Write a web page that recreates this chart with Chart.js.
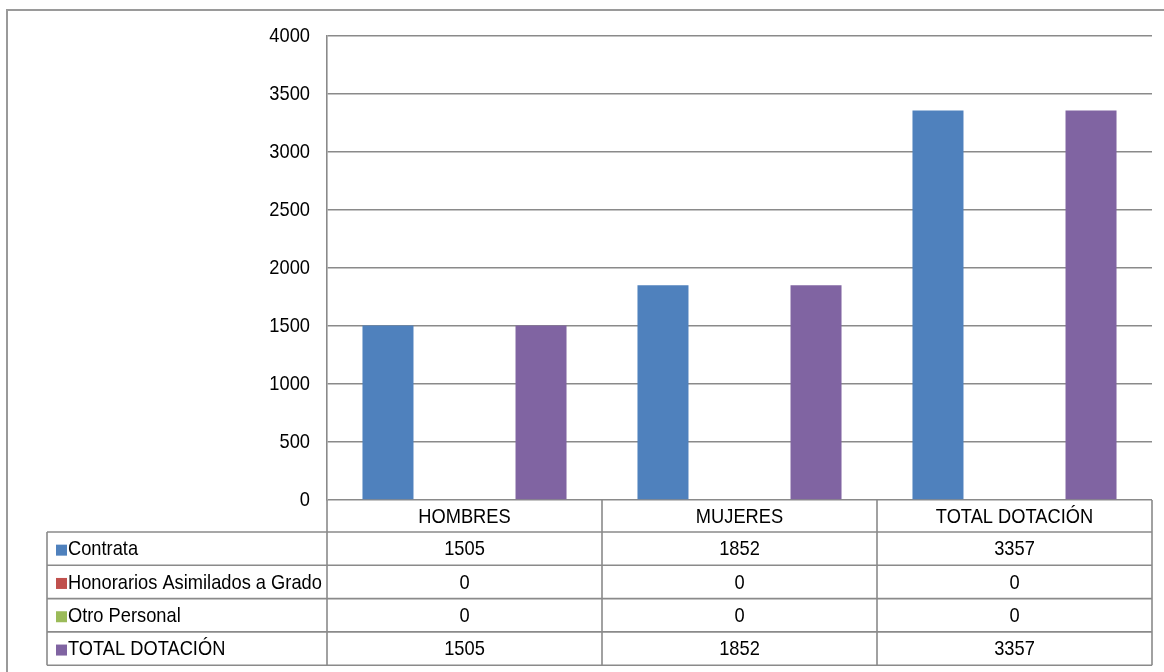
<!DOCTYPE html>
<html>
<head>
<meta charset="utf-8">
<script src="https://cdn.jsdelivr.net/npm/chart.js@4/dist/chart.umd.min.js"></script>
<style>
    html, body { margin: 0; padding: 0; background: #fff; }
    canvas { display: block; }
</style>
</head>
<body>
<canvas id="chart" width="1164" height="672"></canvas>
<script>
const categories = ['HOMBRES', 'MUJERES', 'TOTAL DOTACIÓN'];
const seriesNames = ['Contrata', 'Honorarios Asimilados a Grado', 'Otro Personal', 'TOTAL DOTACIÓN'];
const contrata = [1505, 1852, 3357];
const honorarios = [0, 0, 0];
const otroPersonal = [0, 0, 0];
const totalDotacion = [1505, 1852, 3357];
const seriesColors = ['#4f81bd', '#c0504d', '#9bbb59', '#8064a2'];
const yMax = 4000;
const yStep = 500;

const FONT = '"Liberation Sans", Arial, sans-serif';
const FONT_SIZE = 21;
const NARROW = 0.87;   // no narrow font installed, squeeze the glyphs instead
const LINE_COLOR = '#8a8a8a';

Chart.defaults.font.family = FONT;
Chart.defaults.font.size = FONT_SIZE;
Chart.defaults.color = '#000';

function narrowText(ctx, text, x, y, align) {
    ctx.save();
    ctx.translate(x, y);
    ctx.scale(NARROW, 1);
    ctx.textAlign = align;
    ctx.fillText(text, 0, 0);
    ctx.restore();
}

// y labels and the data table under the plot, drawn from the chart's scales
const dataTablePlugin = {
    id: 'dataTable',
    afterDraw(chart) {
        const ctx = chart.ctx;
        const xScale = chart.scales.x;
        const yScale = chart.scales.y;
        const area = chart.chartArea;
        const colW = (area.right - area.left) / categories.length;
        const headerH = 32;
        const rowH = 33.3;
        const tableLeft = 47;
        const top = area.bottom;
        const rowsTop = top + headerH;
        const bottom = rowsTop + rowH * seriesNames.length;

        ctx.save();

        // outer frame
        ctx.strokeStyle = '#9a9a9a';
        ctx.lineWidth = 2;
        ctx.beginPath();
        ctx.moveTo(7, chart.height);
        ctx.lineTo(7, 10);
        ctx.lineTo(chart.width, 10);
        ctx.stroke();

        ctx.strokeStyle = LINE_COLOR;
        ctx.lineWidth = 1.6;
        ctx.beginPath();
        for (let i = 0; i <= categories.length; i++) {
            const x = area.left + i * colW;
            ctx.moveTo(x, top);
            ctx.lineTo(x, bottom);
        }
        ctx.moveTo(tableLeft, rowsTop);
        ctx.lineTo(tableLeft, bottom);
        for (let r = 0; r <= seriesNames.length; r++) {
            const y = rowsTop + r * rowH;
            ctx.moveTo(tableLeft, y);
            ctx.lineTo(area.right, y);
        }
        ctx.stroke();

        ctx.font = FONT_SIZE + 'px ' + FONT;
        ctx.fillStyle = '#000';
        ctx.textBaseline = 'middle';

        yScale.ticks.forEach(t => {
            narrowText(ctx, String(t.value), area.left - 17, yScale.getPixelForValue(t.value) + 0.5, 'right');
        });

        categories.forEach((c, i) => {
            narrowText(ctx, c, xScale.getPixelForValue(i), top + headerH / 2 + 1, 'center');
        });

        chart.data.datasets.forEach((ds, r) => {
            const cy = rowsTop + r * rowH + rowH / 2 + 1;
            ctx.fillStyle = ds.backgroundColor;
            ctx.fillRect(56, cy - 5, 11, 11);
            ctx.fillStyle = '#000';
            narrowText(ctx, ds.label, 68, cy, 'left');
            ds.data.forEach((v, i) => {
                narrowText(ctx, String(v), xScale.getPixelForValue(i), cy, 'center');
            });
        });

        ctx.restore();
    }
};

const seriesData = [contrata, honorarios, otroPersonal, totalDotacion];

new Chart(document.getElementById('chart'), {
    type: 'bar',
    data: {
        labels: categories,
        datasets: seriesNames.map((name, i) => ({
            label: name,
            data: seriesData[i],
            backgroundColor: seriesColors[i],
            borderWidth: 0,
            barPercentage: 1,
            categoryPercentage: 0.742
        }))
    },
    options: {
        responsive: false,
        animation: false,
        layout: {
            padding: { top: 36, right: 12, bottom: 172, left: 0 }
        },
        plugins: {
            legend: { display: false },
            tooltip: { enabled: false }
        },
        scales: {
            x: {
                display: false
            },
            y: {
                min: 0,
                max: yMax,
                afterFit(scale) { scale.width = 327; },
                ticks: {
                    stepSize: yStep,
                    display: false
                },
                grid: {
                    color: LINE_COLOR,
                    lineWidth: 1.4,
                    drawTicks: false
                },
                border: {
                    display: true,
                    color: LINE_COLOR,
                    width: 1.6
                }
            }
        }
    },
    plugins: [dataTablePlugin]
});
</script>
</body>
</html>
